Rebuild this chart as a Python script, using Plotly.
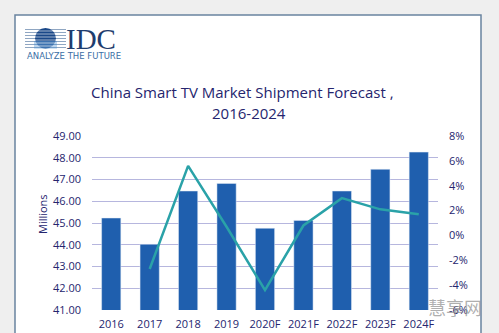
import plotly.graph_objects as go

categories = ["2016", "2017", "2018", "2019", "2020F", "2021F", "2022F", "2023F", "2024F"]
shipments = [45.23, 44.02, 46.47, 46.82, 44.76, 45.12, 46.47, 47.47, 48.26]
growth = [None, -2.7, 5.6, 0.7, -4.4, 0.8, 3.0, 2.1, 1.7]
left_ticks = [41, 42, 43, 44, 45, 46, 47, 48, 49]
right_ticks = [-6, -4, -2, 0, 2, 4, 6, 8]
right_labels = ["-6%", "-4%", "-2%", "0%", "2%", "4%", "6%", "8%"]

W, H = 499, 333
L, R, T, B = 92, 438, 136, 310  # plot area in pixels


def px(x):
    return (x - L) / (R - L)


def py(y):
    return (B - y) / (B - T)


navy = "#25256e"
fig = go.Figure()
fig.add_trace(go.Bar(x=categories, y=shipments, marker_color="#1f5fae",
                     width=0.5, yaxis="y", showlegend=False))
fig.add_trace(go.Scatter(x=categories, y=growth, mode="lines",
                         line=dict(color="#2aa2a8", width=2.5),
                         yaxis="y2", showlegend=False, connectgaps=False))

shapes = []
# slide background and border
shapes.append(dict(type="rect", xref="paper", yref="paper", x0=px(15), x1=px(481),
                   y0=py(345), y1=py(15), fillcolor="white",
                   line=dict(color="#6a84a0", width=1.5), layer="below"))
# logo globe
for yy in [29.5, 32.5, 35.5, 38.5, 41.5, 44.5, 47.5]:
    shapes.append(dict(type="line", xref="paper", yref="paper", x0=px(25), x1=px(66),
                       y0=py(yy), y1=py(yy), line=dict(color="#8fa6c2", width=1),
                       layer="above"))
shapes.append(dict(type="circle", xref="paper", yref="paper", x0=px(35), x1=px(56),
                   y0=py(48.5), y1=py(28), fillcolor="#1a4888", line=dict(width=0),
                   layer="above"))
shapes.append(dict(type="rect", xref="paper", yref="paper", x0=px(34), x1=px(57),
                   y0=py(48.5), y1=py(41), fillcolor="rgba(90,150,210,0.55)",
                   line=dict(width=0), layer="above"))
for yy in [31, 34, 37, 40, 43, 46]:
    shapes.append(dict(type="line", xref="paper", yref="paper", x0=px(33), x1=px(58),
                       y0=py(yy), y1=py(yy), line=dict(color="white", width=0.6),
                       layer="above"))

annotations = [
    dict(text="IDC", x=px(64), y=py(39), xref="paper", yref="paper", xanchor="left",
         yanchor="middle", showarrow=False,
         font=dict(family="Liberation Serif", size=29, color="#1f3d6e")),
    dict(text="ANALYZE THE FUTURE", x=px(25), y=py(56), xref="paper", yref="paper",
         xanchor="left", yanchor="middle", showarrow=False,
         font=dict(family="DejaVu Sans", size=8.5, color="#3a6ea5")),
    dict(text="China Smart TV Market Shipment Forecast ,", x=px(242), y=py(92),
         xref="paper", yref="paper", xanchor="center", yanchor="middle", showarrow=False,
         font=dict(family="Open Sans", size=15, color=navy)),
    dict(text="2016-2024", x=px(249), y=py(113),
         xref="paper", yref="paper", xanchor="center", yanchor="middle", showarrow=False,
         font=dict(family="Open Sans", size=15, color=navy)),
    dict(text="Millions", x=px(42), y=py(214), xref="paper", yref="paper",
         xanchor="center", yanchor="middle", showarrow=False, textangle=-90,
         font=dict(family="Open Sans", size=11, color=navy)),
    dict(text="慧享网", x=px(455), y=py(307), xref="paper", yref="paper",
         xanchor="center", yanchor="middle", showarrow=False,
         font=dict(family="Noto Sans CJK SC", size=18, color="rgba(140,140,140,0.7)")),
]

tickfont = dict(family="Open Sans", size=11, color=navy)
fig.update_layout(
    width=W, height=H,
    margin=dict(l=L, r=W - R, t=T, b=H - B, pad=0, autoexpand=False),
    paper_bgcolor="#efefef", plot_bgcolor="rgba(0,0,0,0)",
    shapes=shapes, annotations=annotations,
    xaxis=dict(showgrid=False, tickfont=tickfont, ticks="", showline=False,
               zeroline=False, ticklabelstandoff=6, automargin=False),
    yaxis=dict(range=[41, 49], tickvals=left_ticks, tickformat=".2f", showgrid=True,
               gridcolor="#b6b6de", gridwidth=1, tickfont=tickfont, ticks="",
               zeroline=False, showline=False, ticklabelstandoff=10, automargin=False),
    yaxis2=dict(range=[-6, 8], tickvals=right_ticks, ticktext=right_labels,
                overlaying="y", side="right", automargin=False,
                showgrid=False, zeroline=False, tickfont=tickfont, ticks="",
                showline=False, ticklabelstandoff=10),
    bargap=0.5,
)
fig.write_html("out.html")
